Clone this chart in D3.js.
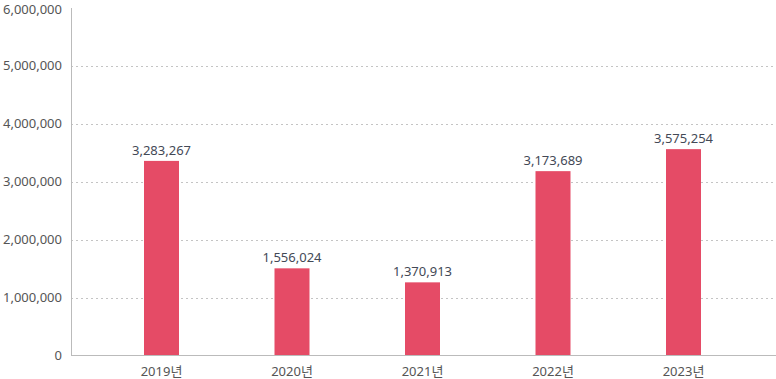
<!DOCTYPE html>
<html>
<head>
    <meta charset="utf-8">
    <title>연도별 현황</title>
    <script src="https://d3js.org/d3.v7.min.js"></script>
    <style>
        body { margin: 0; background: #fff; }
        svg { display: block; font-family: "Noto Sans", "Noto Sans CJK KR", sans-serif; }
        .tick-label { font-size: 13px; fill: #555; }
        .value-label { font-size: 13px; fill: #434956; }
    </style>
</head>
<body>
<div id="chart"></div>
<script>
    // categories and printed values
    const years = ["2019년", "2020년", "2021년", "2022년", "2023년"];
    const labelValues = [3283267, 1556024, 1370913, 3173689, 3575254];
    // bar heights as drawn in the picture (slightly off from labels for some years)
    const barValues = [3360000, 1505000, 1263000, 3183000, 3563000];
    const yTicks = [0, 1000000, 2000000, 3000000, 4000000, 5000000, 6000000];

    const width = 776, height = 379;
    const margin = {top: 8, right: 0, bottom: 24, left: 71};

    const svg = d3.select("#chart").append("svg")
        .attr("width", width)
        .attr("height", height);

    const y = d3.scaleLinear()
        .domain([0, 6000000])
        .range([355.5, margin.top]);

    const x = d3.scalePoint()
        .domain(years)
        .range([161.5, 683.5]);

    const barW = 35;
    const fmt = d3.format(",");

    // dashed grid lines
    svg.append("g")
        .selectAll("line")
        .data(yTicks.filter(t => t > 0 && t < 6000000))
        .enter()
        .append("line")
        .attr("x1", margin.left)
        .attr("x2", width)
        .attr("y1", d => Math.round(y(d)) + 0.5)
        .attr("y2", d => Math.round(y(d)) + 0.5)
        .attr("stroke", "#c4c4c4")
        .attr("stroke-dasharray", "2,3");

    // bars
    svg.append("g")
        .selectAll("rect")
        .data(years)
        .enter()
        .append("rect")
        .attr("x", d => x(d) - barW / 2)
        .attr("y", (d, i) => y(barValues[i]))
        .attr("width", barW)
        .attr("height", (d, i) => y(0) - y(barValues[i]))
        .attr("fill", "#e54b66");

    // value labels
    svg.append("g")
        .selectAll("text")
        .data(years)
        .enter()
        .append("text")
        .attr("class", "value-label")
        .attr("x", d => x(d))
        .attr("y", (d, i) => y(barValues[i]) - 6)
        .attr("text-anchor", "middle")
        .text((d, i) => fmt(labelValues[i]));

    // axes lines
    svg.append("line")
        .attr("x1", margin.left + 0.5).attr("x2", margin.left + 0.5)
        .attr("y1", margin.top).attr("y2", 356)
        .attr("stroke", "#bbb");
    svg.append("line")
        .attr("x1", margin.left).attr("x2", width)
        .attr("y1", 355.5).attr("y2", 355.5)
        .attr("stroke", "#bbb");

    // y tick labels
    svg.append("g")
        .selectAll("text")
        .data(yTicks)
        .enter()
        .append("text")
        .attr("class", "tick-label")
        .attr("x", 62)
        .attr("y", d => Math.max(y(d), 9))
        .attr("dy", "0.35em")
        .attr("text-anchor", "end")
        .text(d => fmt(d));

    // x labels
    svg.append("g")
        .selectAll("text")
        .data(years)
        .enter()
        .append("text")
        .attr("class", "tick-label")
        .attr("x", d => x(d))
        .attr("y", 376)
        .attr("text-anchor", "middle")
        .text(d => d);
</script>
</body>
</html>
